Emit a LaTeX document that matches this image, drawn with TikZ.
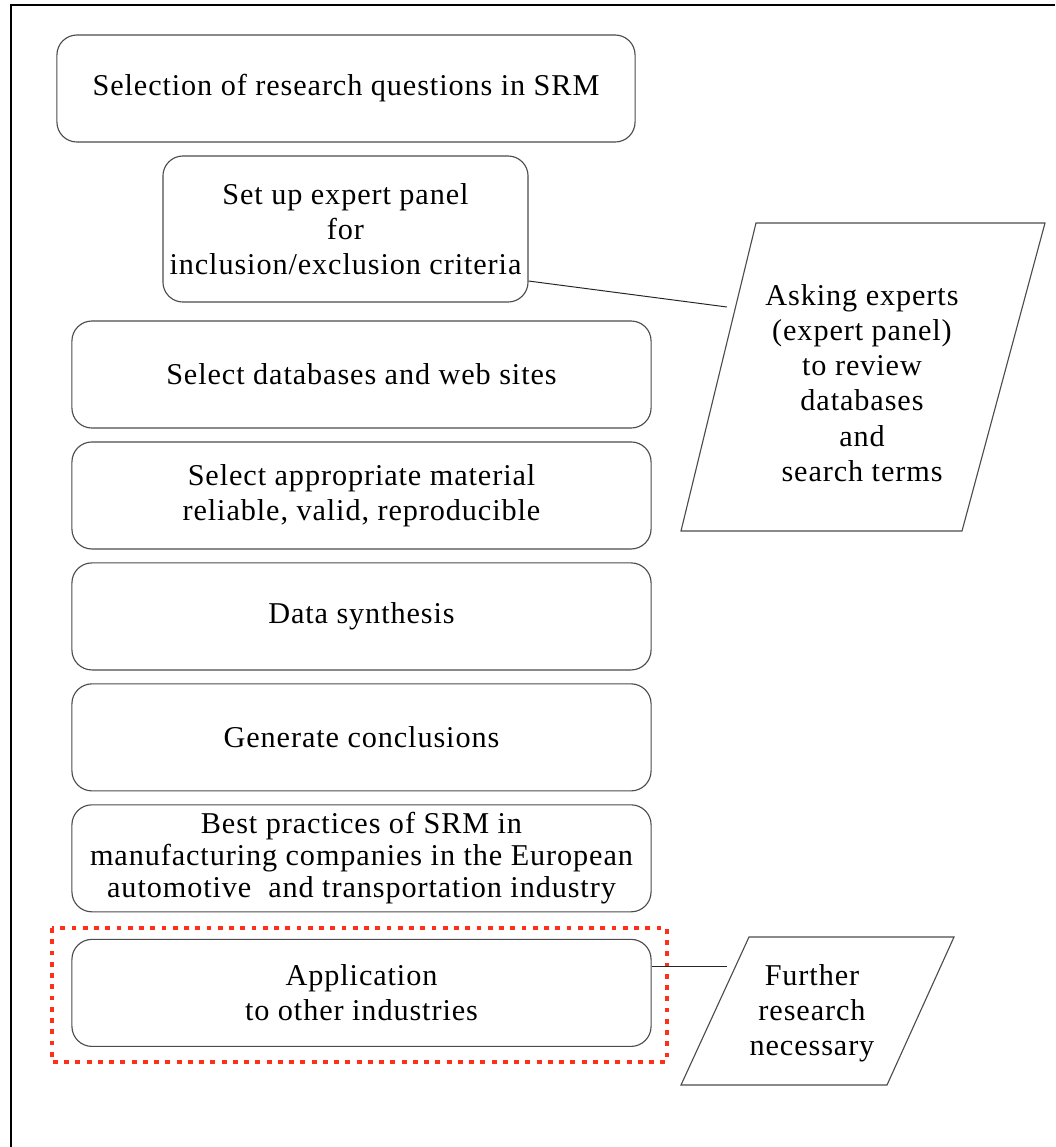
\documentclass[tikz,border=0pt]{standalone}
\usepackage{fontspec}
\setmainfont[LetterSpace=3]{Liberation Serif}
\usetikzlibrary{positioning}

\begin{document}
\begin{tikzpicture}[x=0.025cm,y=-0.025cm,
  stage/.style={draw=black!70,line width=0.8pt,rounded corners=0.5cm,align=center,
    inner sep=0pt,minimum width=14.475cm,minimum height=2.675cm,
    font=\fontsize{21.5}{24.8}\selectfont},
  note/.style={draw=black!70,line width=0.8pt,line join=miter},
  notetext/.style={align=center,inner sep=0pt,font=\fontsize{21.5}{25}\selectfont},
  link/.style={draw=black!85,line width=0.7pt},
  focus/.style={draw=red!80!orange!90,line width=3.4pt,dash pattern=on 3.4pt off 4.6pt}]
  \useasboundingbox (0,0) rectangle (1055,1147);
  \draw[line width=1.4pt] (11,1147)--(11,5)--(1055,5);
  \node[stage,minimum width=14.45cm] (rq) at (346,88.5) {Selection of research questions in SRM};
  \node[stage,minimum width=9.125cm,minimum height=3.65cm] (panel) at (345.5,229)
    {Set up expert panel\\for\\inclusion/exclusion criteria};
  \node[stage] (db) at (361.5,374.5) {Select databases and web sites};
  \node[stage,below=0.32cm of db] (mat) {Select appropriate material\\reliable, valid, reproducible};
  \node[stage,below=0.32cm of mat] (syn) {Data synthesis};
  \node[stage,below=0.32cm of syn] (conc) {Generate conclusions};
  \node[stage,below=0.32cm of conc,font=\fontsize{21.5}{22.8}\selectfont] (best)
    {Best practices of SRM in\\manufacturing companies in the European\\automotive\ \ and transportation industry};
  \node[stage,below=0.66cm of best] (app) {Application\\to other industries};
  \draw[focus] (52,928) rectangle (667,1062);
  \draw[note] (756,223)--(1045,223)--(962,531)--(681,531)--cycle;
  \node[notetext] (ask) at (862,383)
    {Asking experts\\(expert panel)\\to review\\databases\\and\\search terms};
  \draw[note] (749,937)--(954,937)--(887,1085)--(681,1085)--cycle;
  \node[notetext] (further) at (812,1013) {Further\\research\\necessary};
  \coordinate (askin) at (727,307);
  \coordinate (furin) at ([xshift=1.875cm,yshift=0.65cm]app.east);
  \draw[link] ([yshift=-1.3cm]panel.east) -- (askin);
  \draw[link] ([yshift=0.65cm]app.east) -- (furin);
\end{tikzpicture}
\end{document}
